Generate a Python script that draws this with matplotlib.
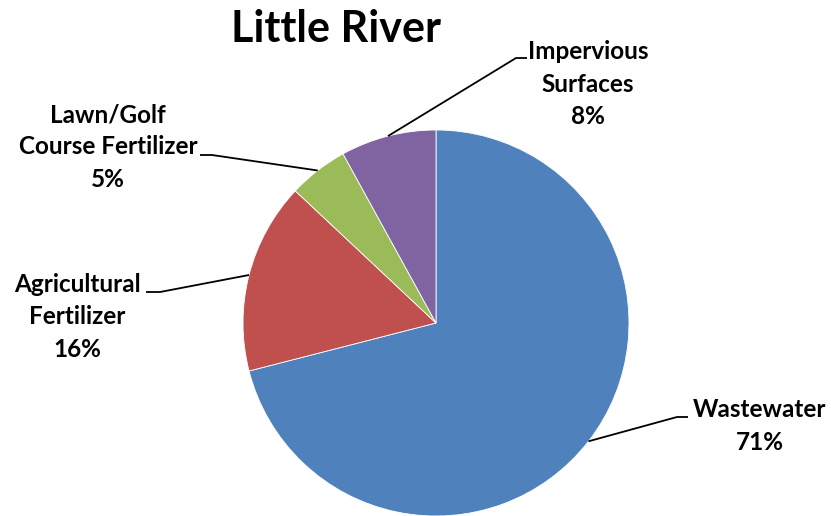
import numpy as np
import matplotlib.pyplot as plt

# nutrient source shares
sources = ["Wastewater", "Agricultural\nFertilizer", "Lawn/Golf\nCourse Fertilizer", "Impervious\nSurfaces"]
shares = [71, 16, 5, 8]
colors = ["#4F81BD", "#C0504D", "#9BBB59", "#8064A2"]

W, H = 831, 516
plt.rcParams["font.family"] = ["Lato", "DejaVu Sans"]

fig = plt.figure(figsize=(W / 100, H / 100), dpi=100)
ax = fig.add_axes([0, 0, 1, 1])

cx, cy, r = 436, H - 323, 193
wedges, _ = ax.pie(shares, colors=colors, startangle=90, counterclock=False,
                   center=(cx, cy), radius=r, frame=True,
                   wedgeprops=dict(edgecolor="white", linewidth=0.6))
ax.set_xlim(0, W)
ax.set_ylim(0, H)
ax.set_aspect("equal")
ax.axis("off")

# (elbow x, elbow y, end x, text x, text y) in pixels from top-left
label_pos = [
    (677, 417, 688, 760, 426),
    (160, 292, 146, 77, 317),
    (212, 155, 200, 108, 147),
    (516, 58, 527, 588, 84),
]

for w, name, val, (ex, ey, endx, tx, ty) in zip(wedges, sources, shares, label_pos):
    mid = np.deg2rad((w.theta1 + w.theta2) / 2)
    px, py = cx + r * np.cos(mid), cy + r * np.sin(mid)
    ax.plot([px, ex, endx], [py, H - ey, H - ey], color="black", lw=1.3,
            solid_capstyle="butt")
    ax.text(tx, H - ty, f"{name}\n{val}%", ha="center", va="center",
            fontsize=17.5, fontweight="bold", linespacing=1.48)

ax.text(336, H - 29, "Little River", ha="center", va="center",
        fontsize=31, fontweight="bold")

fig.savefig("out.png", dpi=100)
